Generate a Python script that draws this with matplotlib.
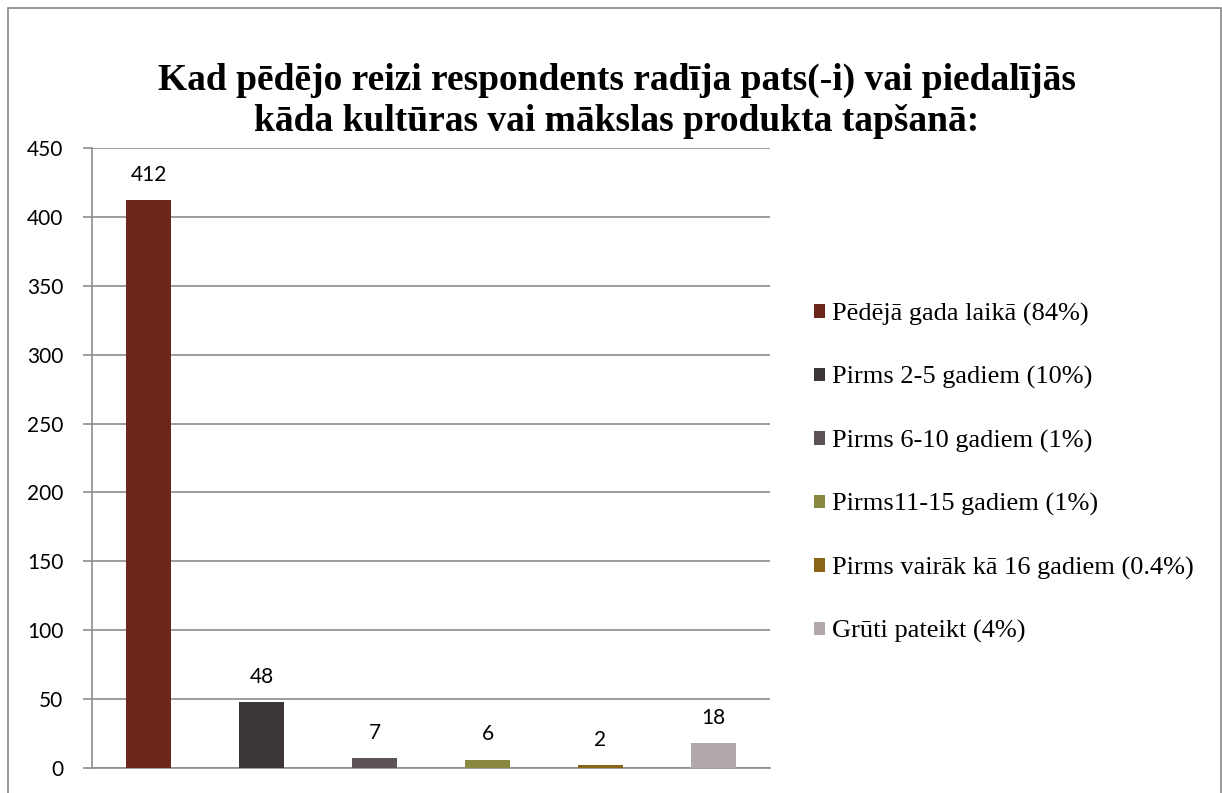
import matplotlib.pyplot as plt
from matplotlib.patches import Rectangle, Patch

# dati
categories = ['Pēdējā gada laikā (84%)', 'Pirms 2-5 gadiem (10%)', 'Pirms 6-10 gadiem (1%)',
              'Pirms11-15 gadiem (1%)', 'Pirms vairāk kā 16 gadiem (0.4%)', 'Grūti pateikt (4%)']
values = [412, 48, 7, 6, 2, 18]
colors = ['#6b271c', '#3d3637', '#5c5355', '#88883e', '#8a6416', '#b0a8aa']
yticks = [0, 50, 100, 150, 200, 250, 300, 350, 400, 450]

W, H = 1222, 793
fig = plt.figure(figsize=(W / 100, H / 100), dpi=100)
ax = fig.add_axes([92 / W, 1 - 768 / H, (770 - 92) / W, (768 - 148) / H])

x = list(range(len(values)))
bars = ax.bar(x, values, width=0.4, color=colors, zorder=3)
ax.bar_label(bars, labels=[str(v) for v in values], padding=11, fontsize=15, family='Lato')

ax.set_xlim(-0.5, len(values) - 0.5)
ax.set_ylim(0, 450)
ax.set_yticks(yticks)
ax.set_yticklabels([str(t) for t in yticks], fontsize=15, family='Lato')
ax.set_xticks([])
ax.grid(axis='y', color='#8c8c8c', linewidth=1.2, zorder=0)
for s in ['top', 'right']:
    ax.spines[s].set_visible(False)
ax.spines['left'].set_color('#8c8c8c')
ax.spines['bottom'].set_color('#8c8c8c')
ax.spines['left'].set_linewidth(1.2)
ax.spines['bottom'].set_linewidth(1.2)
ax.tick_params(axis='y', length=6.5, color='#8c8c8c', width=1.2, pad=14)

fig.text(617 / W, 1 - 101 / H,
         'Kad pēdējo reizi respondents radīja pats(-i) vai piedalījās\nkāda kultūras vai mākslas produkta tapšanā:',
         ha='center', va='center', fontsize=27, fontweight='bold', family='Liberation Serif',
         linespacing=1.2)

handles = [Patch(facecolor=c, edgecolor='none') for c in colors]
fig.legend(handles, categories, loc='center left', bbox_to_anchor=(814 / W, 1 - 473 / H),
           frameon=False, prop={'family': 'Liberation Serif', 'size': 19},
           handlelength=0.42, handleheight=0.42, handletextpad=0.25, labelspacing=1.53,
           borderpad=0, borderaxespad=0)

fig.patches.append(Rectangle((8 / W, -0.05), (1221 - 8) / W, 1 - 8 / H + 0.05,
                             transform=fig.transFigure, fill=False, edgecolor='#888888',
                             linewidth=1.2))

fig.savefig('out.png', dpi=100)
